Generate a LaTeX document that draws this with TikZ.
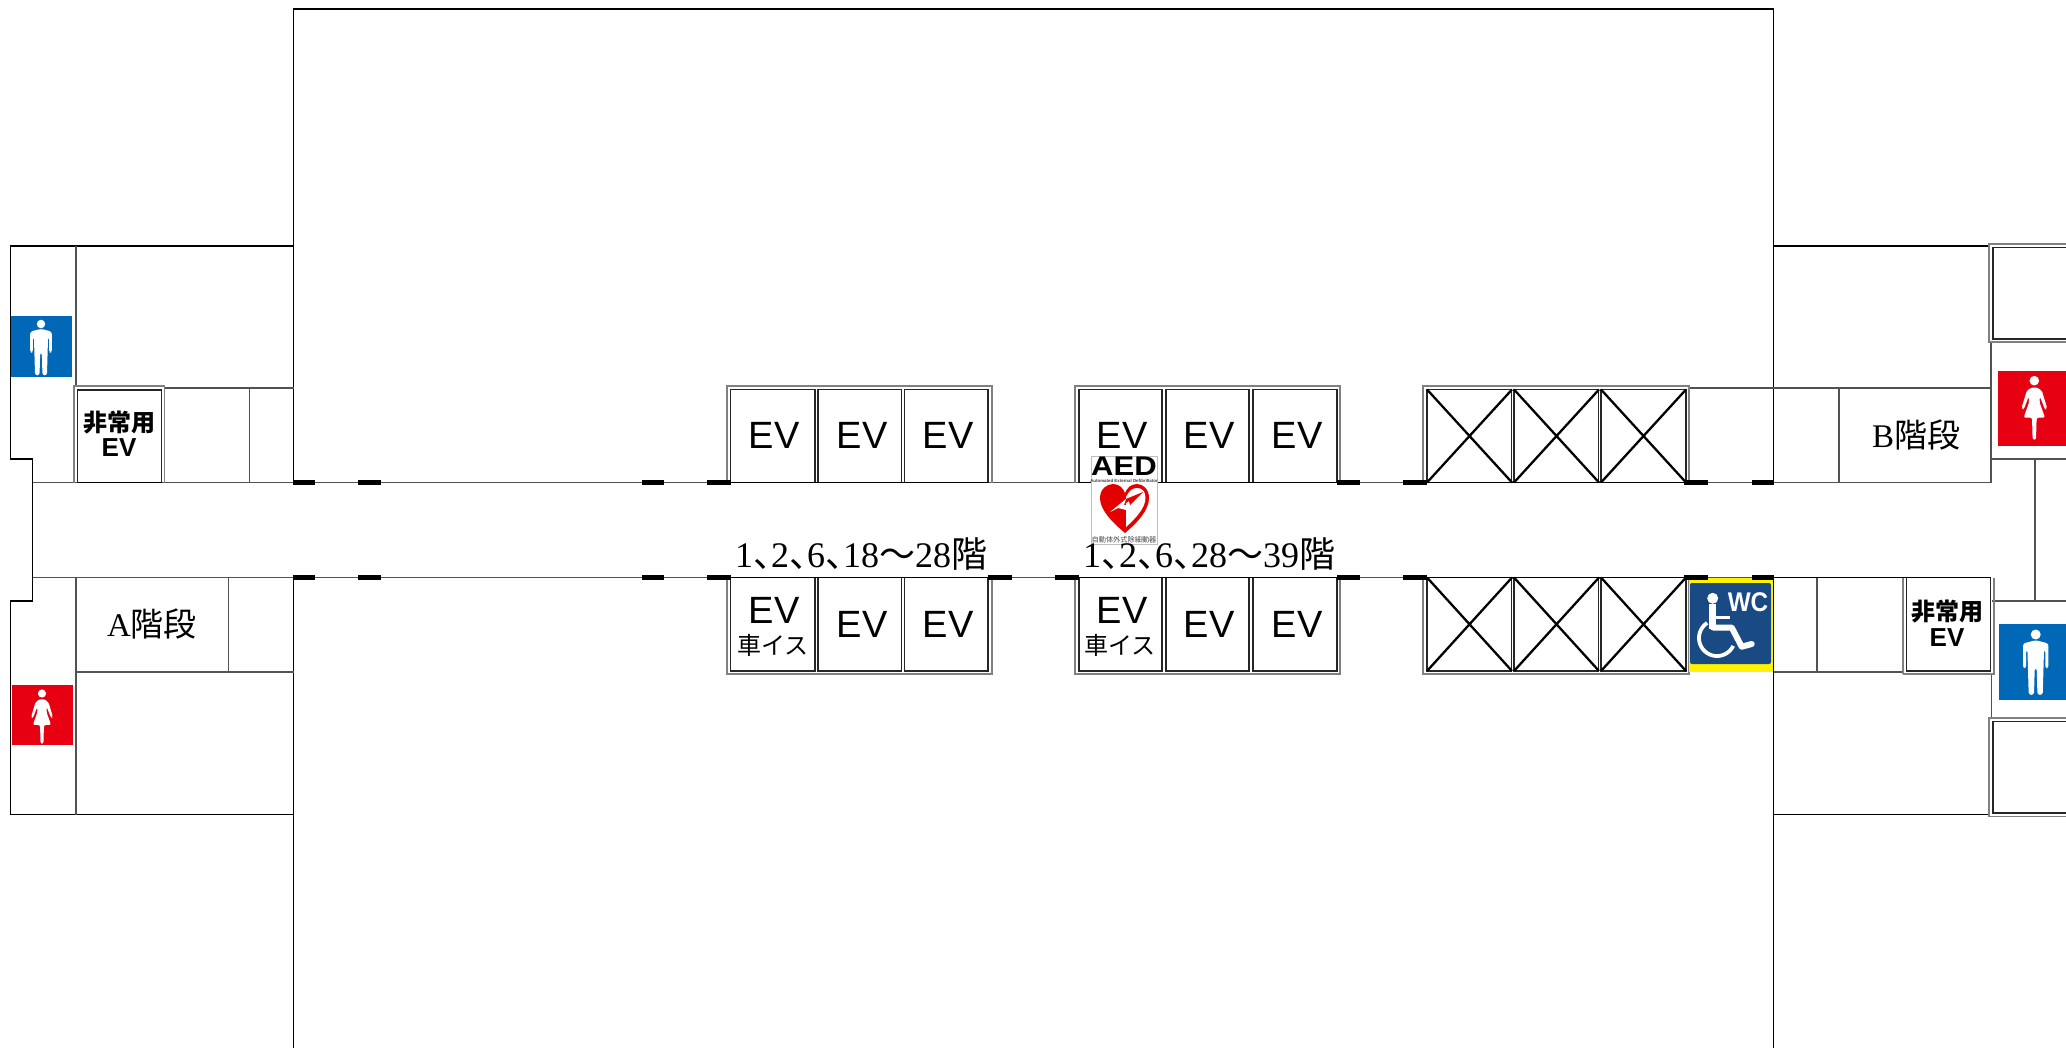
\documentclass[tikz,border=0pt]{standalone}
\usepackage{fontspec}
\setmainfont{Liberation Serif}
\setsansfont{Liberation Sans}
\newfontfamily\cjk{Noto Sans CJK JP}
\definecolor{manblue}{HTML}{0068B7}
\definecolor{womanred}{HTML}{E60012}
\definecolor{wcblue}{HTML}{1A4A84}
\newcommand{\floorsep}{\makebox[0.5em][l]{\cjk 、}}
\tikzset{
         wall/.style={line width=.95pt,black!68},
         thinwall/.style={line width=.75pt,black},
         outerbox/.style={line width=.8pt,black!50},
         cellbox/.style={line width=.95pt,black!85},
         crossline/.style={line width=1.15pt,black},
         doorbar/.style={line width=2.4pt,black},
         evlabel/.style={font=\sffamily\fontsize{19}{21}\selectfont,inner sep=0pt},
         wheellabel/.style={font=\cjk\fontsize{12}{14}\selectfont,inner sep=0pt},
         stairlabel/.style={inner sep=0pt,font=\fontsize{16.5}{18}\selectfont},
         floorlabel/.style={inner sep=0pt,anchor=base,font=\fontsize{18}{20}\selectfont},
         emergency/.style={inner sep=0pt,font=\cjk\bfseries\fontsize{12}{13}\selectfont},
         emergencyev/.style={inner sep=0pt,font=\sffamily\bfseries\fontsize{13}{14}\selectfont},
         manicon/.pic={
           \fill[white] (0,0) circle (5);
           \fill[white,rounded corners=1.2] (0,5.7) -- (12.7,9) -- (12.7,33.7) -- (9.6,33.7) -- (9.6,15.3)
             -- (8.3,15.3) -- (7,60.3) -- (1.7,60.3) -- (1,33.7) -- (-1,33.7) -- (-1.7,60.3) -- (-7,60.3)
             -- (-8.3,15.3) -- (-9.6,15.3) -- (-9.6,33.7) -- (-12.7,33.7) -- (-12.7,9) -- cycle;
         },
         womanicon/.pic={
           \fill[white] (0,0) circle (4.8);
           \fill[white,rounded corners=1] (0,6) -- (7.3,9.3) -- (13,28) -- (10.7,29) -- (5.7,16) -- (5,21)
             -- (10.7,37) -- (2.3,37) -- (1.7,59) -- (-1.7,59) -- (-2.3,37) -- (-10.7,37) -- (-5,21)
             -- (-5.7,16) -- (-10.7,29) -- (-13,28) -- (-7.3,9.3) -- cycle;
         }
        }

\begin{document}
\begin{tikzpicture}[x=0.5pt,y=-0.5pt]
\useasboundingbox (0,0) rectangle (2066,1048);
\clip (0,0) rectangle (2066,1048);
\fill[white] (0,0) rectangle (2066,1048);
% main block
\draw[thinwall] (293.5,1048)--(293.5,577.5);
\draw[thinwall] (293.5,482.5)--(293.5,9)--(1773.5,9)--(1773.5,482.5);
\draw[thinwall] (1773.5,577.5)--(1773.5,1048);
%corridor
\draw[wall] (32,482.5)--(1991,482.5);
\draw[wall] (32,577.5)--(1903,577.5);
\draw[wall] (1773.5,672)--(1903,672);
%left wing
\draw[thinwall] (293.5,246)--(10.5,246)--(10.5,459)--(32.5,459)--(32.5,601)--(10.5,601)--(10.5,814.5)--(293.5,814.5);
\draw[wall] (76,246)--(76,386);
\draw[wall] (76,577.5)--(76,814.5);
\draw[wall] (164,388)--(293.5,388);
\draw[wall] (249.5,388)--(249.5,482.5);
\draw[wall] (76,672)--(293.5,672);
\draw[wall] (228.5,577.5)--(228.5,672);
\draw[outerbox] (74,482.5)--(74,386)--(164.5,386)--(164.5,482.5);
\draw[cellbox] (77.5,482.5)--(77.5,390)--(161.5,390)--(161.5,482.5);
\draw[thinwall] (77.5,482.5)--(161.5,482.5);
%right wing
\draw[thinwall] (1773.5,246)--(1989,246);
\draw[thinwall] (1773.5,814.5)--(1989,814.5);
\draw[wall] (1689,388)--(1991,388);
\draw[wall] (1839,388)--(1839,482.5);
\draw[wall] (1991,342)--(1991,482.5);
\draw[wall] (1991,459)--(2066,459);
\draw[wall] (2034.7,459)--(2034.7,601);
\draw[wall] (1991.5,601)--(2066,601);
\draw[wall] (1991.5,674)--(1991.5,718);
\draw[wall] (1817,577.5)--(1817,672);
\draw[outerbox] (1903,674)--(1993.7,674)--(1993.7,577.5);
\draw[outerbox] (1903,577.5)--(1903,674);
\draw[cellbox] (1906.5,577.5)--(1906.5,671)--(1990.5,671)--(1990.5,577.5);
\draw[thinwall] (1774,577.5)--(1990.5,577.5);
\draw[outerbox] (2066,244)--(1989,244)--(1989,342)--(2066,342);
\draw[cellbox] (2066,247.5)--(1992.7,247.5)--(1992.7,338.7)--(2066,338.7);
\draw[outerbox] (2066,718)--(1989,718)--(1989,816.5)--(2066,816.5);
\draw[cellbox] (2066,721.5)--(1992.7,721.5)--(1992.7,813)--(2066,813);
%elevators upper
\draw[outerbox] (727,482.5)--(727,386)--(992,386)--(992,482.5);
\draw[cellbox] (730.5,482.5)--(730.5,389.5)--(815,389.5)--(815,482.5);
\draw[cellbox] (818,482.5)--(818,389.5)--(901.5,389.5)--(901.5,482.5);
\draw[cellbox] (904.5,482.5)--(904.5,389.5)--(988,389.5)--(988,482.5);
\draw[outerbox] (1075,482.5)--(1075,386)--(1340,386)--(1340,482.5);
\draw[cellbox] (1079,482.5)--(1079,389.5)--(1162,389.5)--(1162,482.5);
\draw[cellbox] (1166,482.5)--(1166,389.5)--(1249,389.5)--(1249,482.5);
\draw[cellbox] (1253,482.5)--(1253,389.5)--(1337,389.5)--(1337,482.5);
\draw[outerbox] (1423,482.5)--(1423,386)--(1689,386)--(1689,482.5);
\draw[cellbox] (1427,482.5)--(1427,389.5)--(1511.5,389.5)--(1511.5,482.5);
\draw[cellbox] (1514,482.5)--(1514,389.5)--(1598.5,389.5)--(1598.5,482.5);
\draw[cellbox] (1601,482.5)--(1601,389.5)--(1686,389.5)--(1686,482.5);
\draw[thinwall] (730.5,482.5)--(988,482.5);
\draw[thinwall] (1079,482.5)--(1337,482.5);
\draw[thinwall] (1427,482.5)--(1686,482.5);
%elevators lower
\draw[outerbox] (727,577.5)--(727,674)--(992,674)--(992,577.5);
\draw[cellbox] (730.5,577.5)--(730.5,671)--(815,671)--(815,577.5);
\draw[cellbox] (818,577.5)--(818,671)--(901.5,671)--(901.5,577.5);
\draw[cellbox] (904.5,577.5)--(904.5,671)--(988,671)--(988,577.5);
\draw[outerbox] (1075,577.5)--(1075,674)--(1340,674)--(1340,577.5);
\draw[cellbox] (1079,577.5)--(1079,671)--(1162,671)--(1162,577.5);
\draw[cellbox] (1166,577.5)--(1166,671)--(1249,671)--(1249,577.5);
\draw[cellbox] (1253,577.5)--(1253,671)--(1337,671)--(1337,577.5);
\draw[outerbox] (1423,577.5)--(1423,674)--(1689,674)--(1689,577.5);
\draw[cellbox] (1427,577.5)--(1427,671)--(1511.5,671)--(1511.5,577.5);
\draw[cellbox] (1514,577.5)--(1514,671)--(1598.5,671)--(1598.5,577.5);
\draw[cellbox] (1601,577.5)--(1601,671)--(1686,671)--(1686,577.5);
\draw[thinwall] (730.5,577.5)--(988,577.5);
\draw[thinwall] (1079,577.5)--(1337,577.5);
\draw[thinwall] (1427,577.5)--(1686,577.5);
%crossed shafts
\draw[crossline] (1427,389.5)--(1512,482.5) (1427,482.5)--(1512,389.5);
\draw[crossline] (1514,389.5)--(1599,482.5) (1514,482.5)--(1599,389.5);
\draw[crossline] (1601,389.5)--(1686,482.5) (1601,482.5)--(1686,389.5);
\draw[crossline] (1427,577.5)--(1512,671) (1427,671)--(1512,577.5);
\draw[crossline] (1514,577.5)--(1599,671) (1514,671)--(1599,577.5);
\draw[crossline] (1601,577.5)--(1686,671) (1601,671)--(1686,577.5);
%wheelchair toilet
\fill[yellow] (1688.5,578) rectangle (1773,672);
\fill[wcblue,rounded corners=1] (1690,583) rectangle (1771,664);
\fill[white] (1712.7,598.3) circle (5.5);
\draw[white,line width=3.5pt] (1712.7,604)--(1712.7,629);
\draw[white,line width=1.8pt] (1714,617.3)--(1730,617.3);
\draw[white,line width=3pt,line join=round,line cap=round] (1713,627.5)--(1731.7,627.5)--(1741.7,646.7)--(1751.7,644);
\draw[white,line width=1.9pt,domain=237:26,samples=40,smooth] plot ({1717+18*cos(\x)},{638+18*sin(\x)});
\node[font=\sffamily\bfseries\fontsize{13.5}{15}\selectfont,text=white,inner sep=0pt,transform shape,xscale=.9] (wclabel) at (1748,602) {WC};
%door marks
\draw[doorbar] (293,482.5)--(315,482.5);
\draw[doorbar] (358,482.5)--(381,482.5);
\draw[doorbar] (642,482.5)--(664,482.5);
\draw[doorbar] (707,482.5)--(731,482.5);
\draw[doorbar] (1337,482.5)--(1360,482.5);
\draw[doorbar] (1403,482.5)--(1427,482.5);
\draw[doorbar] (1684,482.5)--(1708,482.5);
\draw[doorbar] (1752,482.5)--(1774,482.5);
\draw[doorbar] (293,577.5)--(315,577.5);
\draw[doorbar] (358,577.5)--(381,577.5);
\draw[doorbar] (642,577.5)--(664,577.5);
\draw[doorbar] (707,577.5)--(731,577.5);
\draw[doorbar] (988,577.5)--(1012,577.5);
\draw[doorbar] (1055,577.5)--(1079,577.5);
\draw[doorbar] (1337,577.5)--(1360,577.5);
\draw[doorbar] (1403,577.5)--(1427,577.5);
\draw[doorbar] (1684,577.5)--(1708,577.5);
\draw[doorbar] (1752,577.5)--(1774,577.5);
%toilet signs
\fill[manblue] (10.7,316) rectangle (72,377);
\pic at (41,324) [scale=.85] {manicon};
\fill[womanred] (12,685) rectangle (73,745);
\pic at (42,693.5) [scale=.85] {womanicon};
\fill[womanred] (1998,371) rectangle (2066,445.5);
\pic at (2034.3,380.7) {womanicon};
\fill[manblue] (1999,624) rectangle (2066,700);
\pic at (2035.7,634.5) {manicon};
%elevator labels
\node[evlabel] (evua) at (774,435) {EV};
\node[evlabel] (evub) at (862,435) {EV};
\node[evlabel] (evuc) at (948,435) {EV};
\node[evlabel] (evud) at (1122,435) {EV};
\node[evlabel] (evue) at (1209,435) {EV};
\node[evlabel] (evuf) at (1297,435) {EV};
\node[evlabel] (evla) at (774,610) {EV};
\node[wheellabel] (wheela) at (773,645) {車イス};
\node[evlabel] (evlb) at (862,624) {EV};
\node[evlabel] (evlc) at (948,624) {EV};
\node[evlabel] (evld) at (1122,610) {EV};
\node[wheellabel] (wheelb) at (1120,645) {車イス};
\node[evlabel] (evle) at (1209,624) {EV};
\node[evlabel] (evlf) at (1297,624) {EV};
%stairs and emergency elevators
\node[emergency] (emla) at (119,422.5) {非常用};
\node[emergencyev] (emlb) at (119,448) {EV};
\node[emergency] (emra) at (1947,612) {非常用};
\node[emergencyev] (emrb) at (1947,637.5) {EV};
\node[stairlabel] (staira) at (152,624) {A{\cjk 階段}};
\node[stairlabel] (stairb) at (1916,435.5) {B{\cjk 階段}};
%AED
\draw[black!25,line width=.4pt,fill=white] (1091,456) rectangle (1157,544);
\node[font=\sffamily\bfseries\fontsize{13.5}{15}\selectfont,inner sep=0pt,transform shape,xscale=1.15] (aedtitle) at (1124,466.5) {AED};
\node[font=\sffamily\bfseries\fontsize{2.2}{3}\selectfont,text=black!75,inner sep=0pt] (aedname) at (1124,481) {Automated External Defibrillator};
\fill[red!90!black] (1125,533) .. controls (1112,522) and (1100,510) .. (1100,498) .. controls (1100,489) and (1107,484) .. (1113,484) .. controls (1119,484) and (1123,488) .. (1125,493) .. controls (1127,488) and (1131,484) .. (1137,484) .. controls (1143,484) and (1149,489) .. (1149,498) .. controls (1149,510) and (1138,522) .. (1125,533) -- cycle;
\fill[white] (1126,527) .. controls (1135,519) and (1145.5,508) .. (1145.5,498) .. controls (1145.5,491) and (1142,488) .. (1137,488) .. controls (1132,488) and (1129,491) .. (1126,497) -- cycle;
\fill[white] (1110,512)--(1126,499)--(1124,505)--(1126,505)--(1126,510)--(1118,508)--cycle;
\fill[red!90!black] (1126,499)--(1143,492)--(1130,505)--(1129,501)--(1126,503)--cycle;
\node[font=\cjk\fontsize{3.6}{4}\selectfont,text=black!70,inner sep=0pt] (aedjp) at (1124,540) {自動体外式除細動器};
%floor ranges
\node[floorlabel] (floora) at (861,567) {1\floorsep 2\floorsep 6\floorsep 18{\cjk ～}28{\cjk 階}};
\node[floorlabel] (floorb) at (1209,567) {1\floorsep 2\floorsep 6\floorsep 28{\cjk ～}39{\cjk 階}};
\end{tikzpicture}
\end{document}
